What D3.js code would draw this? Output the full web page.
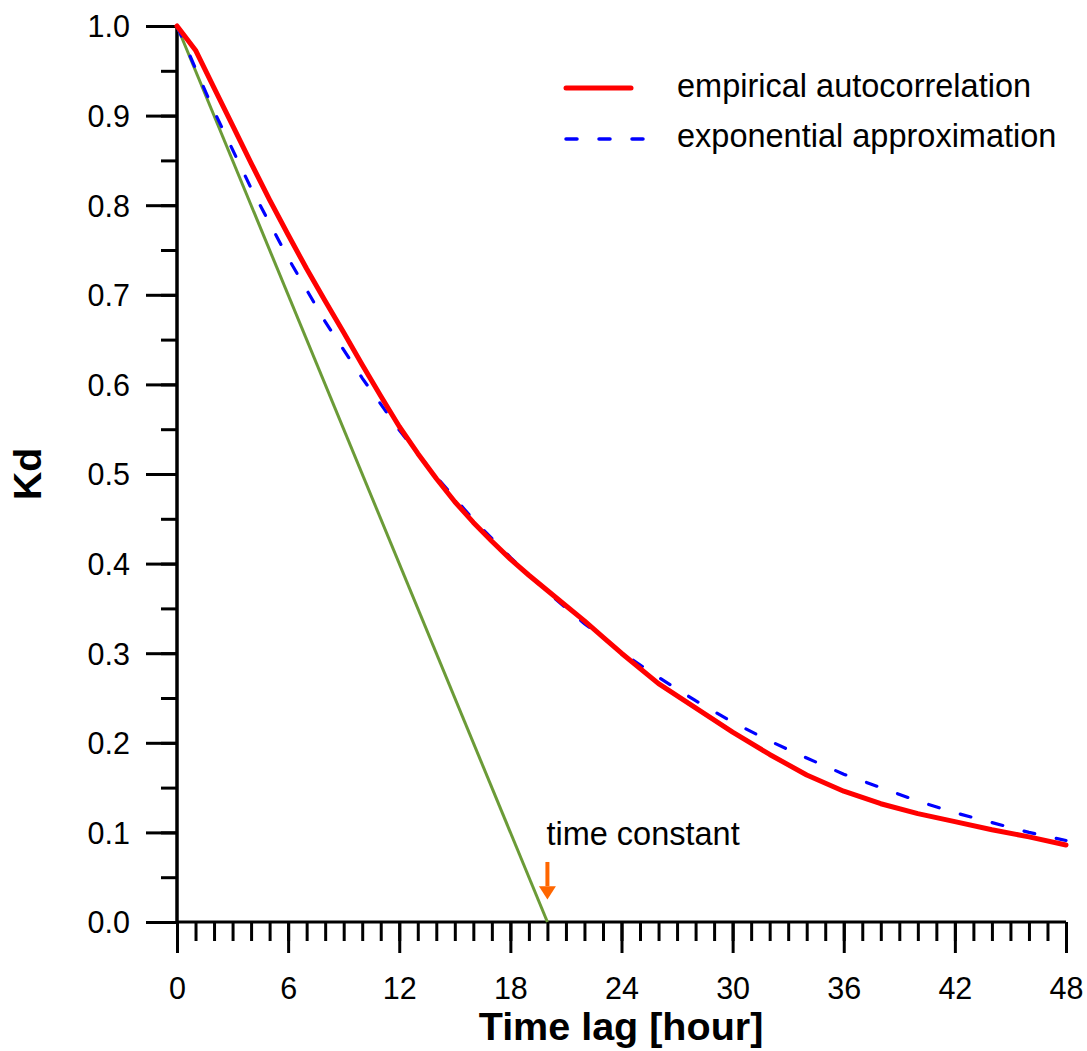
<!DOCTYPE html>
<html>
<head>
<meta charset="utf-8">
<script src="https://cdn.jsdelivr.net/npm/d3@7"></script>
<style>
  html, body { margin: 0; padding: 0; background: #fff; }
  svg { display: block; }
  text { font-family: "Liberation Sans", Arial, sans-serif; fill: #000; }
</style>
</head>
<body>
<svg id="chart" width="1087" height="1051"></svg>
<script>
// ---- data ----
const hours = [0, 1, 2, 3, 4, 5, 6, 7, 8, 9, 10, 11, 12, 13, 14, 15, 16, 17, 18, 19, 20, 21, 22, 23, 24, 26, 28, 30, 32, 34, 36, 38, 40, 42, 44, 46, 48];
const empirical = [1.000, 0.973, 0.931, 0.889, 0.847, 0.806, 0.767, 0.729, 0.693, 0.658, 0.622, 0.587, 0.553, 0.523, 0.495, 0.469, 0.446, 0.425, 0.405, 0.387, 0.370, 0.353, 0.336, 0.318, 0.300, 0.266, 0.239, 0.212, 0.187, 0.164, 0.146, 0.132, 0.121, 0.112, 0.103, 0.095, 0.086];
const expHours = [0, 2, 4, 6, 8, 10, 12, 14, 16, 18, 20, 22, 24, 26, 28, 30, 32, 34, 36, 38, 40, 42, 44, 46, 48];
const exponential = [1.000, 0.905, 0.819, 0.741, 0.670, 0.607, 0.549, 0.497, 0.449, 0.407, 0.368, 0.333, 0.301, 0.273, 0.247, 0.223, 0.202, 0.183, 0.165, 0.150, 0.135, 0.122, 0.111, 0.100, 0.091];
const tangentHours = [0, 20];
const tangentValues = [1.0, 0.0];
const timeConstant = 20;
const xTickValues = [0, 6, 12, 18, 24, 30, 36, 42, 48];
const yTickValues = [0.0, 0.1, 0.2, 0.3, 0.4, 0.5, 0.6, 0.7, 0.8, 0.9, 1.0];
const legendLabels = ["empirical autocorrelation", "exponential approximation"];
const xTitle = "Time lag [hour]";
const yTitle = "Kd";
const annotation = "time constant";

// ---- layout ----
const svg = d3.select("#chart");
const mLeft = 177, mRight = 1066, mTop = 26, mBottom = 922;
const x = d3.scaleLinear().domain([0, 48]).range([mLeft, mRight]);
const y = d3.scaleLinear().domain([0, 1]).range([mBottom, mTop]);

const tickFont = 30.5;
const labelFont = 32.5;

// ---- axes ----
const xMinor = d3.axisBottom(x).tickValues(d3.range(0, 49, 1)).tickSize(19).tickFormat("");
const gxm = svg.append("g").attr("transform", `translate(0,${mBottom})`).call(xMinor);
const xMajor = d3.axisBottom(x).tickValues(xTickValues).tickSize(31).tickPadding(24).tickFormat(d3.format("d"));
const gx = svg.append("g").attr("transform", `translate(0,${mBottom})`).call(xMajor);
const yMinor = d3.axisLeft(y).tickValues(d3.range(0, 21).map(i => i * 0.05)).tickSize(16).tickFormat("");
const gym = svg.append("g").attr("transform", `translate(${mLeft},0)`).call(yMinor);
const yMajor = d3.axisLeft(y).tickValues(yTickValues).tickSize(31).tickPadding(16).tickFormat(d3.format(".1f"));
const gy = svg.append("g").attr("transform", `translate(${mLeft},0)`).call(yMajor);

[gxm, gx, gym, gy].forEach(g => {
  g.select(".domain").remove();
  g.selectAll(".tick line").attr("stroke", "#000").attr("stroke-width", 3);
  g.selectAll("text").attr("font-size", tickFont).attr("fill", "#000")
    .style("font-family", '"Liberation Sans", Arial, sans-serif');
});
gx.selectAll("text").attr("dy", "0.71em");
gy.selectAll("text").attr("dy", "0.36em");

svg.append("line").attr("x1", mLeft).attr("x2", mRight).attr("y1", mBottom).attr("y2", mBottom)
  .attr("stroke", "#000").attr("stroke-width", 3);
svg.append("line").attr("x1", mLeft).attr("x2", mLeft).attr("y1", mTop).attr("y2", mBottom)
  .attr("stroke", "#000").attr("stroke-width", 3.5);

// ---- series ----
const line = d3.line().x(d => x(d[0])).y(d => y(d[1]));

svg.append("path")
  .datum(tangentHours.map((h, i) => [h, tangentValues[i]]))
  .attr("d", line).attr("fill", "none").attr("stroke", "#6b9b37").attr("stroke-width", 3);

svg.append("path")
  .datum(expHours.map((h, i) => [h, exponential[i]]))
  .attr("d", line).attr("fill", "none").attr("stroke", "#0000ff").attr("stroke-width", 3.2)
  .attr("stroke-dasharray", "11,22").attr("stroke-linecap", "round");

svg.append("path")
  .datum(hours.map((h, i) => [h, empirical[i]]))
  .attr("d", line).attr("fill", "none").attr("stroke", "#ff0000").attr("stroke-width", 5)
  .attr("stroke-linejoin", "round").attr("stroke-linecap", "round");

// ---- annotation arrow ----
const ax = x(timeConstant);
svg.append("line").attr("x1", ax).attr("x2", ax).attr("y1", y(0.067)).attr("y2", y(0.040))
  .attr("stroke", "#ff6600").attr("stroke-width", 4);
svg.append("path")
  .attr("d", `M${ax - 8.5},${y(0.040)} L${ax + 8.5},${y(0.040)} L${ax},${y(0.025)} Z`)
  .attr("fill", "#ff6600");
svg.append("text").attr("x", ax - 1).attr("y", y(0.086))
  .attr("font-size", labelFont).text(annotation);

// ---- legend ----
const lg = svg.append("g");
lg.append("line").attr("x1", 566).attr("x2", 631).attr("y1", 88).attr("y2", 88)
  .attr("stroke", "#ff0000").attr("stroke-width", 5).attr("stroke-linecap", "round");
lg.append("text").attr("x", 677).attr("y", 97).attr("font-size", labelFont).text(legendLabels[0]);
lg.append("line").attr("x1", 566).attr("x2", 646).attr("y1", 139).attr("y2", 139)
  .attr("stroke", "#0000ff").attr("stroke-width", 3.5).attr("stroke-dasharray", "11,22").attr("stroke-linecap", "round");
lg.append("text").attr("x", 677).attr("y", 147).attr("font-size", labelFont).text(legendLabels[1]);

// ---- titles ----
svg.append("text").attr("x", 621).attr("y", 1040).attr("text-anchor", "middle")
  .attr("font-size", 39.5).attr("font-weight", "bold").text(xTitle);
svg.append("text").attr("transform", `translate(41,474) rotate(-90)`).attr("text-anchor", "middle")
  .attr("font-size", 39.5).attr("font-weight", "bold").text(yTitle);
</script>
</body>
</html>
